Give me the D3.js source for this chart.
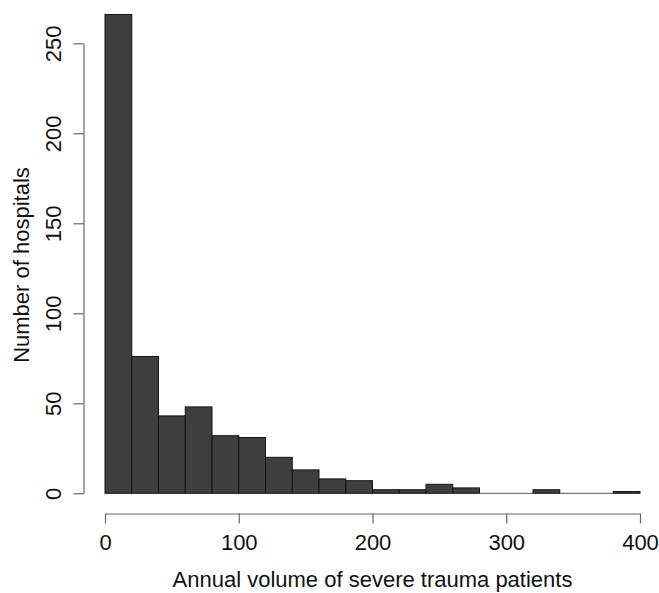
<!DOCTYPE html>
<html>
<head>
<meta charset="utf-8">
<script src="https://d3js.org/d3.v7.min.js"></script>
<style>
  body { margin: 0; background: #fff; }
  svg text { font-family: "Liberation Sans", Arial, sans-serif; fill: #111; }
</style>
</head>
<body>
<script>
// histogram bins (lower edge) and counts
var binStarts = [0, 20, 40, 60, 80, 100, 120, 140, 160, 180, 200, 220, 240, 260, 280, 300, 320, 340, 360, 380];
var binWidth = 20;
var counts = [266, 76, 43, 48, 32, 31, 20, 13, 8, 7, 2, 2, 5, 3, 0, 0, 2, 0, 0, 1];
var xTicks = [0, 100, 200, 300, 400];
var yTicks = [0, 50, 100, 150, 200, 250];

var W = 659, H = 593;
var fs = 22;
var svg = d3.select("body").append("svg")
  .attr("width", W)
  .attr("height", H);

var x = d3.scaleLinear().domain([0, 400]).range([105, 640]);
var y = d3.scaleLinear().domain([0, 250]).range([493.3, 43.3]);

var bins = binStarts.map(function(s, i) { return {x0: s, n: counts[i]}; });

// empty bins still get a flat line on the baseline, like R's hist()
svg.append("g")
  .selectAll("line")
  .data(bins.filter(function(d) { return d.n === 0; }))
  .enter()
    .append("line")
    .attr("x1", function(d) { return x(d.x0); })
    .attr("x2", function(d) { return x(d.x0 + binWidth); })
    .attr("y1", y(0))
    .attr("y2", y(0))
    .attr("stroke", "#555")
    .attr("stroke-width", 1);

// bars
svg.append("g")
  .selectAll("rect")
  .data(bins.filter(function(d) { return d.n > 0; }))
  .enter()
    .append("rect")
    .attr("x", function(d) { return x(d.x0); })
    .attr("width", function(d) { return x(d.x0 + binWidth) - x(d.x0); })
    .attr("y", function(d) { return y(d.n); })
    .attr("height", function(d) { return y(0) - y(d.n); })
    .attr("fill", "#3e3e3e")
    .attr("stroke", "#151515")
    .attr("stroke-width", 1);

// x axis
var xAxis = svg.append("g")
  .attr("transform", "translate(0,513.5)")
  .call(d3.axisBottom(x).tickValues(xTicks).tickSize(10).tickSizeOuter(0));

// y axis
var yAxis = svg.append("g")
  .attr("transform", "translate(83.5,0)")
  .call(d3.axisLeft(y).tickValues(yTicks).tickSize(10).tickSizeOuter(0));

[xAxis, yAxis].forEach(function(a) {
  a.select(".domain").attr("stroke", "#666").attr("stroke-width", 1.2);
  a.selectAll(".tick line").attr("stroke", "#666").attr("stroke-width", 1.2);
  a.selectAll("text").attr("font-size", fs).attr("fill", "#111")
    .attr("font-family", "Liberation Sans, Arial, sans-serif");
});

xAxis.selectAll(".tick text").attr("y", 36.5).attr("dy", null);

// rotate y labels like R does
yAxis.selectAll(".tick text")
  .attr("x", null).attr("dy", null)
  .attr("text-anchor", "middle")
  .attr("transform", "translate(-22.5,0) rotate(-90)");

// axis titles
svg.append("text")
  .attr("x", x(200))
  .attr("y", 587)
  .attr("text-anchor", "middle")
  .attr("font-size", fs)
  .text("Annual volume of severe trauma patients");

svg.append("text")
  .attr("transform", "translate(29,265) rotate(-90)")
  .attr("text-anchor", "middle")
  .attr("font-size", fs)
  .text("Number of hospitals");
</script>
</body>
</html>
